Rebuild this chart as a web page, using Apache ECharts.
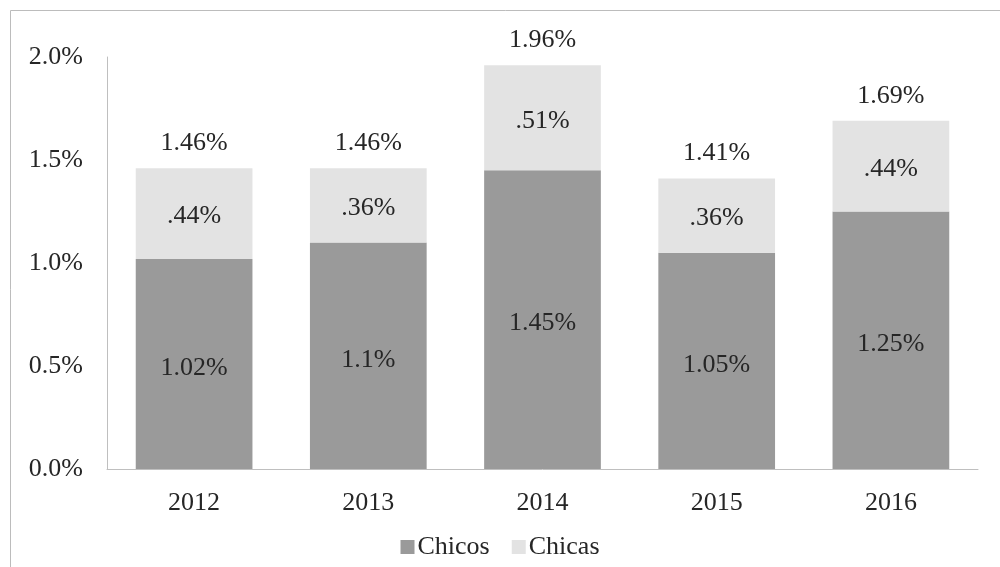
<!DOCTYPE html>
<html>
<head>
<meta charset="utf-8">
<script src="https://cdn.jsdelivr.net/npm/echarts@6/dist/echarts.min.js"></script>
<style>
html,body{margin:0;padding:0;background:#fff;}
#c{width:1000px;height:567px;}
</style>
</head>
<body>
<div id="c"></div>
<script>
var categories = ['2012', '2013', '2014', '2015', '2016'];
var chicos = [1.02, 1.10, 1.45, 1.05, 1.25];
var chicas = [0.44, 0.36, 0.51, 0.36, 0.44];
var totals = [1.46, 1.46, 1.96, 1.41, 1.69];
var yTicks = ['0.0%', '0.5%', '1.0%', '1.5%', '2.0%'];

var FONT = '"Liberation Serif", "Times New Roman", serif';
var FS = 26;
var TXT = '#262626';

function fmtTotal(v) { return v.toFixed(2) + '%'; }
function fmtChicos(v) { var s = v.toFixed(2); if (s.charAt(s.length-1) === '0') s = s.slice(0, -1); return s + '%'; }
function fmtChicas(v) { return v.toFixed(2).replace(/^0/, '') + '%'; }

var chart = echarts.init(document.getElementById('c'), null, {renderer: 'canvas'});
chart.setOption({
  animation: false,
  backgroundColor: '#ffffff',
  textStyle: {fontFamily: FONT},
  graphic: [{
    type: 'rect',
    shape: {x: 10.5, y: 10.5, width: 1000, height: 600},
    style: {fill: 'none', stroke: '#bcbcbc', lineWidth: 1},
    silent: true
  }],
  grid: {left: 107, right: 22, top: 57, bottom: 98, containLabel: false},
  legend: {
    bottom: 2,
    left: 'center',
    itemWidth: 14,
    itemHeight: 14,
    itemGap: 22,
    icon: 'rect',
    textStyle: {fontFamily: FONT, fontSize: FS, color: TXT, padding: [0, 0, 0, -2]},
    data: ['Chicos', 'Chicas']
  },
  xAxis: {
    type: 'category',
    data: categories,
    axisLine: {show: true, lineStyle: {color: '#bfbfbf', width: 1}},
    axisTick: {show: false},
    axisLabel: {fontFamily: FONT, fontSize: FS, color: TXT, margin: 21}
  },
  yAxis: {
    type: 'value',
    min: 0,
    max: 2.0,
    interval: 0.5,
    axisLine: {show: true, lineStyle: {color: '#bfbfbf', width: 1}},
    axisTick: {show: false},
    splitLine: {show: false},
    axisLabel: {
      fontFamily: FONT, fontSize: FS, color: TXT, margin: 24,
      formatter: function (v) { return yTicks[Math.round(v / 0.5)]; }
    }
  },
  series: [
    {
      name: 'Chicos',
      type: 'bar',
      stack: 'total',
      data: chicos,
      barCategoryGap: '33%',
      itemStyle: {color: '#9a9a9a'},
      label: {
        show: true, position: 'inside', offset: [0, 4], fontFamily: FONT, fontSize: FS, color: TXT,
        formatter: function (p) { return fmtChicos(p.value); }
      }
    },
    {
      name: 'Chicas',
      type: 'bar',
      stack: 'total',
      data: chicas,
      itemStyle: {color: '#e3e3e3'},
      label: {
        show: true, position: 'inside', offset: [0, 3], fontFamily: FONT, fontSize: FS, color: TXT,
        formatter: function (p) { return fmtChicas(p.value); }
      }
    },
    {
      name: 'Total',
      type: 'bar',
      data: totals,
      barGap: '-100%',
      z: 1,
      itemStyle: {color: 'rgba(0,0,0,0)'},
      silent: true,
      label: {
        show: true, position: 'top', distance: 12, fontFamily: FONT, fontSize: FS, color: TXT,
        formatter: function (p) { return fmtTotal(p.value); }
      }
    }
  ]
});
</script>
</body>
</html>
